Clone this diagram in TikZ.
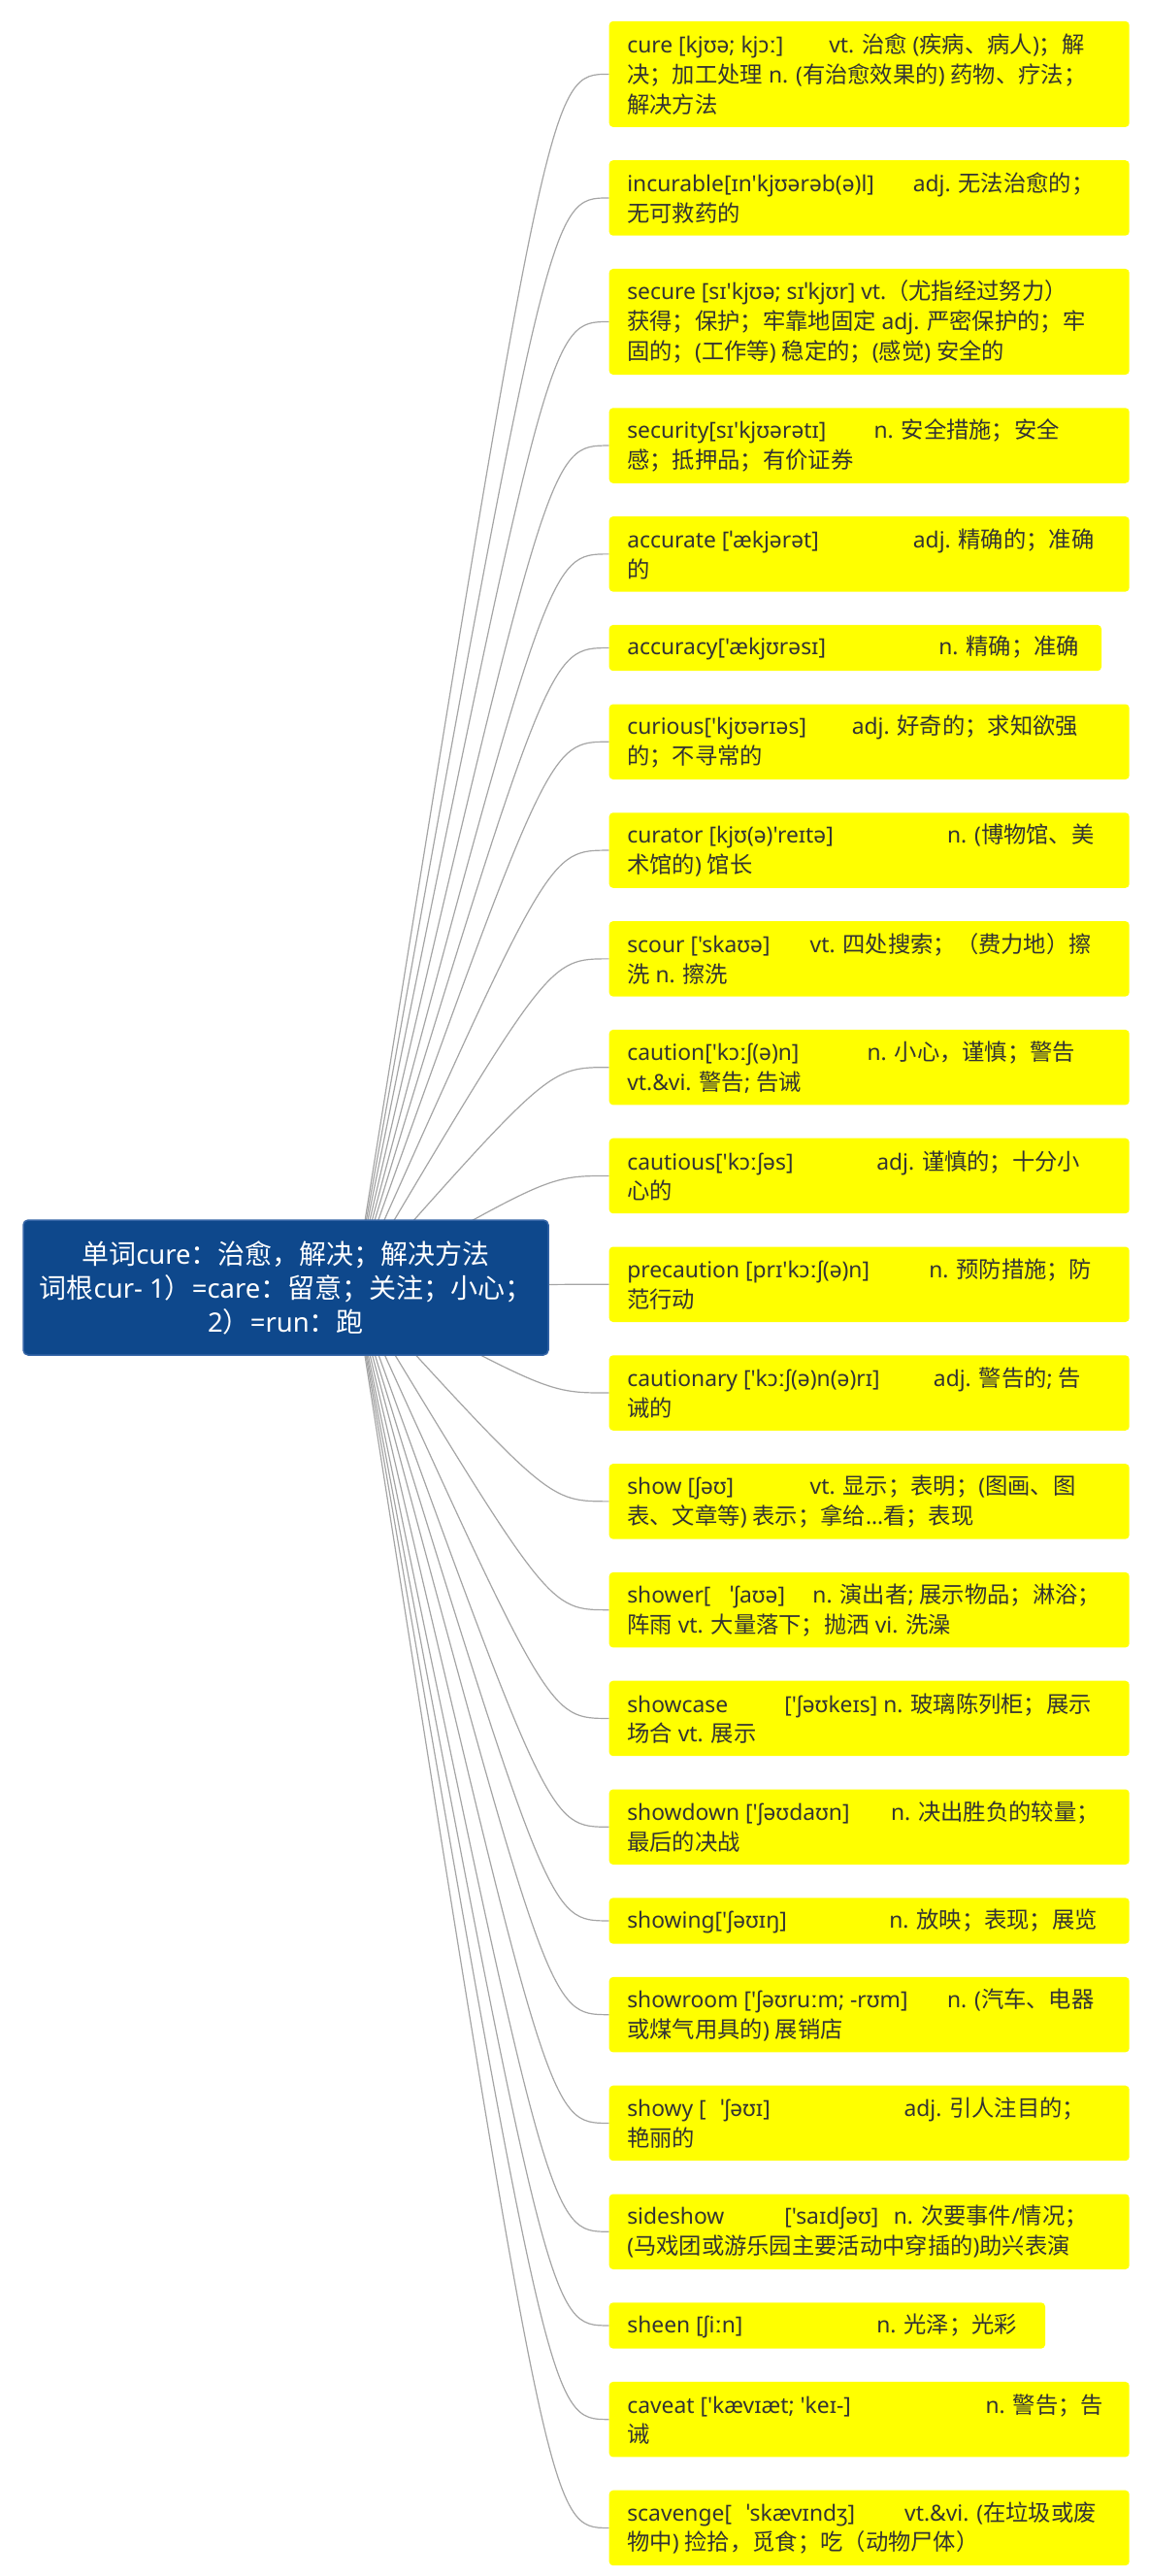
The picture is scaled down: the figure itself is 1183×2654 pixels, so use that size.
\documentclass[tikz,border=0pt]{standalone}
\usepackage{fontspec}
\usetikzlibrary{positioning,backgrounds}

\newfontfamily\latinfont[Scale=0.98]{Noto Sans}
\newfontfamily\cjkfont{Noto Sans CJK SC}

% switch to the CJK font for Chinese characters
\XeTeXinterchartokenstate=1
\newXeTeXintercharclass\cjkclass
\newcount\cjkchar
\newcommand\charrange[3]{\cjkchar=#1\relax
  \loop\XeTeXcharclass\cjkchar=#3\relax
  \ifnum\cjkchar<#2\relax\advance\cjkchar by 1\repeat}
\charrange{"2000}{"206F}{0}
\charrange{"3000}{"303F}{\cjkclass}
\charrange{"4E00}{"9FFF}{\cjkclass}
\charrange{"FF00}{"FFEF}{\cjkclass}
\XeTeXinterchartoks 0 \cjkclass = {\begingroup\cjkfont}
\XeTeXinterchartoks 4095 \cjkclass = {\begingroup\cjkfont}
\XeTeXinterchartoks \cjkclass 0 = {\endgroup}
\XeTeXinterchartoks \cjkclass 4095 = {\endgroup}

\definecolor{rootblue}{RGB}{14,72,140}
\definecolor{rootedge}{RGB}{52,100,166}
\definecolor{leafyellow}{RGB}{255,255,0}
\definecolor{inkgray}{RGB}{51,51,51}
\definecolor{wiregray}{RGB}{165,165,165}

\newcommand\leafline[4][498.8pt]{\makebox[#1][l]{\makebox[#2][l]{#3}#4}}

\begin{document}
\begin{tikzpicture}[x=1pt, y=1pt, node distance=33.9pt,
    under/.style={below=of #1.south west, anchor=north west}]
  \tikzstyle{root}=[fill=rootblue, draw=rootedge, line width=1.5pt, rounded corners=5pt,
    text=white, align=center, minimum width=541pt, minimum height=139pt,
    font={\fontsize{28}{35}\latinfont}]
  \tikzstyle{leaf}=[fill=leafyellow, text=inkgray, rounded corners=4pt, align=left,
    inner xsep=18.6pt, inner ysep=0pt, minimum width=536pt,
    font={\fontsize{23.3}{30.8}\latinfont}]
  \tikzstyle{oneline}=[leaf, minimum height=47.3pt]
  \tikzstyle{twoline}=[leaf, minimum height=77.5pt]
  \tikzstyle{threeline}=[leaf, minimum height=109pt]
  \tikzstyle{branch}=[draw=wiregray, line width=1.2pt]

  \useasboundingbox (0,0) rectangle (1183,-2654);

  \node[root] (root) at (294.5,-1326.5)
    {单词cure：治愈，解决；解决方法\\词根cur- 1）=care：留意；关注；小心；\\2）=run：跑};
  \coordinate (hub) at ([xshift=70.5pt]root.center);

  \node[threeline, anchor=north west] (cure) at (627.5,-21.7)
    {\leafline{208pt}{cure [kjʊə; kjɔː]}{vt. 治愈 (疾病、病人)；解}\\决；加工处理 n. (有治愈效果的) 药物、疗法；\\解决方法};
  \node[twoline, under=cure] (incurable)
    {\leafline{294.6pt}{incurable[ɪn'kjʊərəb(ə)l]}{adj. 无法治愈的；}\\无可救药的};
  \node[threeline, under=incurable] (secure)
    {\leafline{0pt}{}{secure [sɪ'kjʊə; sɪˈkjʊr] vt.（尤指经过努力）}\\获得；保护；牢靠地固定 adj. 严密保护的；牢\\固的；(工作等) 稳定的；(感觉) 安全的};
  \node[twoline, under=secure] (security)
    {\leafline{254.3pt}{security[sɪ'kjʊərətɪ]}{n. 安全措施；安全}\\感；抵押品；有价证券};
  \node[twoline, under=security] (accurate)
    {\leafline{294.6pt}{accurate [ˈækjərət]}{adj. 精确的；准确}\\的};
  \node[oneline, under=accurate, minimum width=507.3pt] (accuracy)
    {\leafline[470pt]{321pt}{accuracy['ækjʊrəsɪ]}{n. 精确；准确}};
  \node[twoline, under=accuracy] (curious)
    {\leafline{231.5pt}{curious['kjʊərɪəs]}{adj. 好奇的；求知欲强}\\的；不寻常的};
  \node[twoline, under=curious] (curator)
    {\leafline{329.7pt}{curator [kjʊ(ə)'reɪtə]}{n. (博物馆、美}\\术馆的) 馆长};
  \node[twoline, under=curator] (scour)
    {\leafline{188.4pt}{scour ['skaʊə]}{vt. 四处搜索；（费力地）擦}\\洗 n. 擦洗};
  \node[twoline, under=scour] (caution)
    {\leafline{247.3pt}{caution['kɔːʃ(ə)n]}{n. 小心，谨慎；警告}\\vt.\&vi. 警告; 告诫};
  \node[twoline, under=caution] (cautious)
    {\leafline{257pt}{cautious['kɔːʃəs]}{adj. 谨慎的；十分小}\\心的};
  \node[twoline, under=cautious] (precaution)
    {\leafline{311pt}{precaution [prɪ'kɔːʃ(ə)n]}{n. 预防措施；防}\\范行动};
  \node[twoline, under=precaution] (cautionary)
    {\leafline{315.7pt}{cautionary ['kɔːʃ(ə)n(ə)rɪ]}{adj. 警告的; 告}\\诫的};
  \node[twoline, under=cautionary] (show)
    {\leafline{188.4pt}{show [ʃəʊ]}{vt. 显示；表明；(图画、图}\\表、文章等) 表示；拿给…看；表现};
  \node[twoline, under=show] (shower)
    {\leafline{191.2pt}{shower[\hspace{20pt}ˈʃaʊə]}{n. 演出者; 展示物品；淋浴；}\\阵雨 vt. 大量落下；抛洒 vi. 洗澡};
  \node[twoline, under=shower] (showcase)
    {\leafline{162pt}{showcase}{['ʃəʊkeɪs] n. 玻璃陈列柜；展示}\\场合 vt. 展示};
  \node[twoline, under=showcase] (showdown)
    {\leafline{271.8pt}{showdown ['ʃəʊdaʊn]}{n. 决出胜负的较量；}\\最后的决战};
  \node[oneline, under=showdown] (showing)
    {\leafline{270pt}{showing['ʃəʊɪŋ]}{n. 放映；表现；展览}};
  \node[twoline, under=showing] (showroom)
    {\leafline{329.7pt}{showroom ['ʃəʊruːm; -rʊm]}{n. (汽车、电器}\\或煤气用具的) 展销店};
  \node[twoline, under=showroom] (showy)
    {\leafline{285.2pt}{showy [\hspace{15pt}ˈʃəʊɪ]}{adj. 引人注目的；}\\艳丽的};
  \node[twoline, under=showy] (sideshow)
    {\leafline{162pt}{sideshow}{\makebox[112.6pt][l]{['saɪdʃəʊ]}n. 次要事件/情况；}\\(马戏团或游乐园主要活动中穿插的)助兴表演};
  \node[oneline, under=sideshow, minimum width=449.3pt] (sheen)
    {\leafline[412pt]{257pt}{sheen [ʃiːn]}{n. 光泽；光彩}};
  \node[twoline, under=sheen] (caveat)
    {\leafline{369.3pt}{caveat ['kævɪæt; 'keɪ-]}{n. 警告；告}\\诫};
  \node[twoline, under=caveat] (scavenge)
    {\leafline{285.9pt}{scavenge[\hspace{15pt}ˈskævɪndʒ]}{vt.\&vi. (在垃圾或废}\\物中) 捡拾，觅食；吃（动物尸体）};

  \begin{scope}[on background layer]
    \foreach \w in {cure, incurable, secure, security, accurate, accuracy, curious,
        curator, scour, caution, cautious, precaution, cautionary, show, shower,
        showcase, showdown, showing, showroom, showy, sideshow, sheen, caveat, scavenge}
      \draw[branch] (hub) .. controls (root.east |- \w.west) .. (\w.west);
  \end{scope}
\end{tikzpicture}
\end{document}
